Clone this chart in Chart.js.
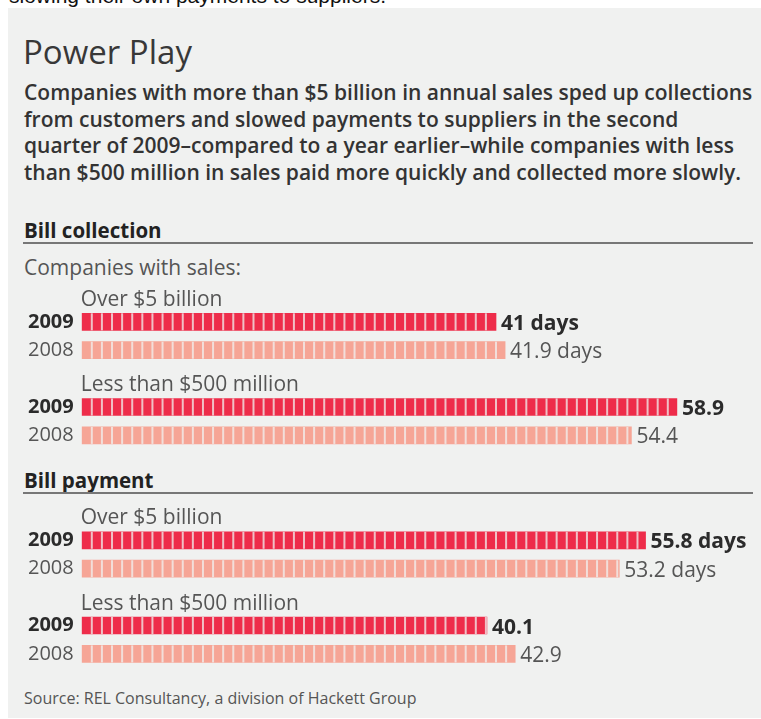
<!DOCTYPE html>
<html>
<head>
<meta charset="utf-8">
<script src="https://cdn.jsdelivr.net/npm/chart.js"></script>
<style>
  body { margin: 0; background: #fff; }
  #wrap { position: relative; width: 761px; height: 719px; overflow: hidden; font-family: "Open Sans", sans-serif; }
  #wrap div { position: absolute; white-space: nowrap; }
  .prev { left: 9px; top: -15px; font: 21px/21px "Liberation Sans", Arial, sans-serif; color: #111; }
  .panel { left: 8px; top: 8px; width: 753px; height: 710px; background: #f0f1f0; }
  .title { left: 23px; top: 35px; font-size: 33px; line-height: 33px; color: #383838; }
  .intro { left: 24px; top: 79px; font-size: 21px; line-height: 26.67px; font-weight: 600; color: #333; }
  .head { left: 24px; font-size: 20.5px; line-height: 21px; font-weight: 700; color: #222; }
  .rule { left: 23px; width: 730px; height: 2px; background: #777; }
  .sub { left: 24px; top: 257px; font-size: 21px; line-height: 21px; color: #555; }
  .source { left: 24px; top: 690px; font-size: 16px; line-height: 16px; color: #555; }
  canvas { position: absolute; left: 0; }
</style>
</head>
<body>
<div id="wrap">
  <div class="prev">slowing their own payments to suppliers.</div>
  <div class="panel"></div>
  <div class="title">Power Play</div>
  <div class="intro">Companies with more than $5 billion in annual sales sped up collections<br>from customers and slowed payments to suppliers in the second<br>quarter of 2009–compared to a year earlier–while companies with less<br>than $500 million in sales paid more quickly and collected more slowly.</div>
  <div class="head" style="top:220px">Bill collection</div>
  <div class="rule" style="top:242px"></div>
  <div class="sub">Companies with sales:</div>
  <div class="head" style="top:470px">Bill payment</div>
  <div class="rule" style="top:492px"></div>
  <div class="source">Source: REL Consultancy, a division of Hackett Group</div>
  <canvas id="collectionChart" width="761" height="175" style="top:280px"></canvas>
  <canvas id="paymentChart" width="761" height="175" style="top:500px"></canvas>
</div>
<script>
// data (days)
var years = ['2009', '2008'];
var groups = ['Over $5 billion', 'Less than $500 million'];
var collection2009 = [41, 58.9];
var collection2008 = [41.9, 54.4];
var payment2009 = [55.8, 40.1];
var payment2008 = [53.2, 42.9];
var unit = ' days';

var red = '#ee2c4a';
var pink = '#f6a596';
var bg = 'rgba(240, 241, 240, 0.75)';

// rows: 2009, 2008, (gap), 2009, 2008
function buildRows(v09, v08) {
    var labels = [], data = [], group = [];
    for (var g = 0; g < groups.length; g++) {
        if (g > 0) { labels.push(''); data.push(null); group.push(-1); }
        labels.push(years[0]); data.push(v09[g]); group.push(g);
        labels.push(years[1]); data.push(v08[g]); group.push(g);
    }
    return { labels: labels, data: data, group: group };
}

// draws the day segments, value labels and group names
var barText = {
    id: 'barText',
    afterDatasetsDraw: function (chart) {
        var ctx = chart.ctx;
        var x = chart.scales.x;
        var rows = chart.options.plugins.barText.rows;
        var meta = chart.getDatasetMeta(0);
        ctx.save();
        meta.data.forEach(function (bar, i) {
            var v = rows.data[i];
            if (v === null) return;
            var h = bar.height;
            // segment gaps, one per day
            ctx.fillStyle = bg;
            for (var k = 1; k < v; k++) {
                var px = x.getPixelForValue(k);
                ctx.fillRect(px - 1, bar.y - h / 2, 2, h);
            }
            var is2009 = rows.labels[i] === years[0];
            var txt = String(v) + (rows.group[i] === 0 ? unit : '');
            ctx.font = (is2009 ? 'bold ' : '') + '21px "Open Sans"';
            ctx.fillStyle = is2009 ? '#2b2b2b' : '#555';
            ctx.textAlign = 'left';
            ctx.textBaseline = 'alphabetic';
            ctx.fillText(txt, bar.x + 5, bar.y + 8);
            if (is2009) {
                ctx.font = '21px "Open Sans"';
                ctx.fillStyle = '#555';
                ctx.fillText(groups[rows.group[i]], chart.chartArea.left - 1, bar.y - 16);
            }
        });
        ctx.restore();
    }
};

function makeChart(id, v09, v08, padTop, padBottom) {
    var rows = buildRows(v09, v08);
    var ctx = document.getElementById(id).getContext('2d');
    return new Chart(ctx, {
        type: 'bar',
        data: {
            labels: rows.labels,
            datasets: [{
                data: rows.data,
                backgroundColor: rows.labels.map(function (l) { return l === years[0] ? red : pink; }),
                barThickness: 17,
                borderWidth: 0
            }]
        },
        options: {
            indexAxis: 'y',
            responsive: false,
            animation: false,
            devicePixelRatio: 1,
            layout: { padding: { top: padTop, bottom: padBottom, left: 0, right: 73 } },
            plugins: {
                legend: { display: false },
                tooltip: { enabled: false },
                barText: { rows: rows }
            },
            scales: {
                x: { type: 'linear', min: 0, max: 60, display: false },
                y: {
                    grid: { display: false, drawTicks: false },
                    border: { display: false },
                    afterFit: function (s) {
                        s.width = 81.7;
                        s.paddingTop = 0;
                        s.paddingBottom = 0;
                    },
                    ticks: {
                        autoSkip: false,
                        padding: 8,
                        color: function (c) { return c.tick.label === years[0] ? '#2b2b2b' : '#555'; },
                        font: function (c) {
                            var bold = c.tick && c.tick.label === years[0];
                            return { family: '"Open Sans"', size: 20, weight: bold ? 'bold' : 'normal' };
                        }
                    }
                }
            }
        },
        plugins: [barText]
    });
}

makeChart('collectionChart', collection2009, collection2008, 27.6, 5.4);
makeChart('paymentChart', payment2009, payment2008, 26.1, 6.9);
</script>
</body>
</html>
